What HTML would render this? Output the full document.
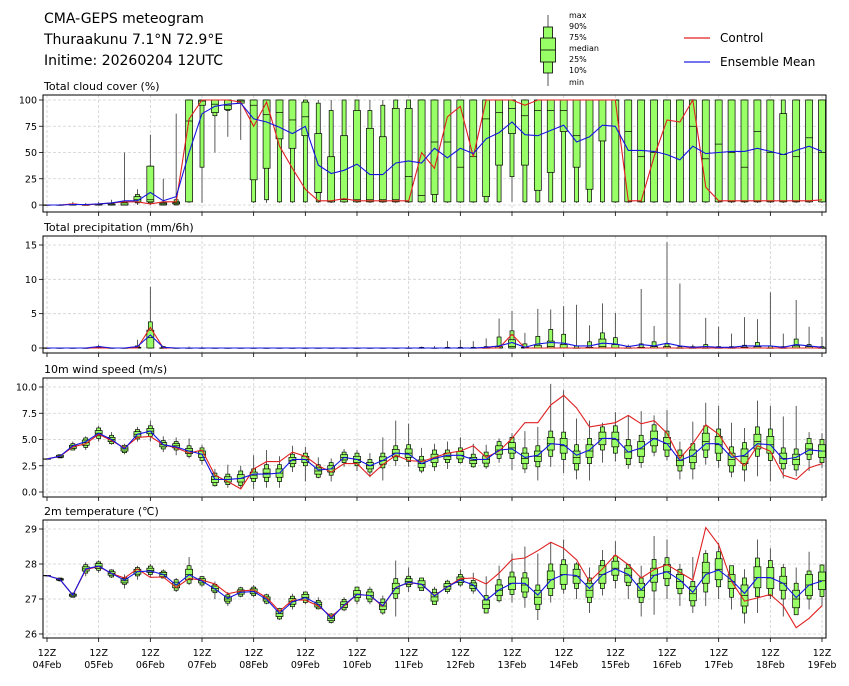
<!DOCTYPE html>
<html><head><meta charset="utf-8"><style>
body{margin:0;background:#fff;font-family:"Liberation Sans","DejaVu Sans",sans-serif}
svg text{font-family:"DejaVu Sans","Liberation Sans",sans-serif}
</style></head><body>
<svg id="chart" width="849" height="681" viewBox="0 0 849 681" xmlns="http://www.w3.org/2000/svg">
<g>
<text x="44" y="23" font-size="14">CMA-GEPS meteogram</text>
<text x="44" y="44" font-size="14">Thuraakunu 7.1°N 72.9°E</text>
<text x="44" y="65" font-size="14">Initime: 20260204 12UTC</text>
</g>
<g>
<line x1="548" y1="15" x2="548" y2="86" stroke="#555" stroke-width="1"/>
<rect x="543.5" y="27" width="9" height="46" fill="#99ff66" stroke="#000" stroke-width="0.8"/>
<rect x="540.5" y="38" width="15" height="24" fill="#99ff66" stroke="#000" stroke-width="0.8"/>
<line x1="540.5" y1="50" x2="555.5" y2="50" stroke="#000" stroke-width="0.8"/>
<g font-size="8">
<text x="569" y="18">max</text><text x="569" y="29">90%</text><text x="569" y="40">75%</text>
<text x="569" y="51">median</text><text x="569" y="62">25%</text><text x="569" y="73">10%</text><text x="569" y="85">min</text>
</g>
</g>
<g>
<line x1="684" y1="38" x2="710" y2="38" stroke="#e02020" stroke-width="1.3"/>
<text x="720" y="42" font-size="12">Control</text>
<line x1="684" y1="62" x2="710" y2="62" stroke="#2020e0" stroke-width="1.3"/>
<text x="720" y="66" font-size="12">Ensemble Mean</text>
</g>
</svg>
<script>
// ---------- data ----------
const days = ["04Feb","05Feb","06Feb","07Feb","08Feb","09Feb","10Feb","11Feb","12Feb","13Feb","14Feb","15Feb","16Feb","17Feb","18Feb","19Feb"];
// cloud cover (%)
const cloudMean = [0,0,0.5,0.5,1,2,4,4,12,4,8,50,87,94,96,97,82,79,74,68,75,38,30,33,39,29,29,40,42,40,54,45,54,49,63,69,79,67,66,71,76,60,65,76,75,52,52,51,48,43,56,49,50,51,51,54,51,48,52,56,51];
const cloudCtrl = [0,0,1,0,1,2,3,3,1,3,3,82,100,100,100,98,75,98,56,35,15,4,4,6,4,4,4,4,4,50,35,84,94,46,100,100,100,95,100,100,100,100,100,100,100,4,4,46,81,79,100,17,4,4,4,4,4,4,4,4,5];
const cloudMed = [0,0,0,0,0,0,0,5,5,1,2,80,99,96,95,99,95,86,88,81,84,12,3,5,5,5,5,5,27,9,60,60,36,46,82,88,92,85,90,90,90,66,100,100,100,70,46,50,3,3,75,44,58,50,36,70,50,48,46,64,50];
const cloudQ1 = [0,0,0,0,0,0,0,3,3,0,1,3,95,88,91,97,24,35,63,54,66,12,3,3,3,3,3,3,3,3,10,3,3,3,8,38,68,38,14,31,70,36,15,61,3,3,3,3,3,3,3,3,3,3,3,3,3,3,3,3,3];
const cloudQ3 = [0,0,1,0,1,1,2,8,37,2,3,100,100,100,100,100,100,100,100,100,98,68,46,66,90,73,65,92,92,100,100,100,100,100,100,100,100,100,100,100,100,100,100,100,100,100,100,100,100,100,100,100,100,100,100,100,100,87,100,100,100];
const cloudP10 = [0,0,0,0,0,0,0,2,2,0,0,3,36,85,90,97,3,5,3,3,3,3,3,3,3,3,3,3,3,3,3,3,3,3,3,3,27,3,3,3,3,3,3,3,3,3,3,3,3,3,3,3,3,3,3,3,3,3,3,3,3];
const cloudP90 = [0,0,1,0,1,2,3,10,37,3,5,100,100,100,100,100,100,100,100,100,100,97,90,100,100,90,95,100,100,100,100,100,100,100,100,100,100,100,100,100,100,100,100,100,100,100,100,100,100,100,100,100,100,100,100,100,100,100,100,100,100];
const cloudMin = [0,0,0,0,0,0,0,0,0,0,0,2,2,50,65,62,2,2,2,2,2,2,2,2,2,2,2,2,2,2,2,2,2,2,2,2,3,2,2,2,2,2,2,2,2,2,2,2,2,2,2,2,2,2,2,2,2,2,2,2,2];
const cloudMax = [0,1,3,2,3,5,50,15,67,25,87,100,100,100,100,100,100,100,100,100,100,100,100,100,100,100,100,100,100,100,100,100,100,100,100,100,100,100,100,100,100,100,100,100,100,100,100,100,100,100,100,100,100,100,100,100,100,100,100,100,100];
// precipitation (mm/6h)
const prMean = [0,0,0,0,0.2,0,0,0.2,1.9,0.1,0,0,0,0,0,0,0,0,0,0,0,0,0,0,0,0,0,0,0,0,0,0,0,0,0.1,0.3,0.8,0.1,0.6,0.8,0.7,0.3,0.3,0.7,0.6,0.2,0.5,0.3,0.7,0.3,0.1,0.2,0.1,0.1,0.3,0.3,0.3,0.1,0.5,0.3,0.1];
const prCtrl = [0,0,0,0,0,0,0,0,3.0,0,0,0,0,0,0,0,0,0,0,0,0,0,0,0,0,0,0,0,0,0,0,0,0,0,0,0,2.0,0,0,0,0,0,0,0,0,0,0,0,0,0,0,0,0,0,0,0,0,0,0,0,0];
const prMed = [0,0,0,0,0,0,0,0,1.5,0,0,0,0,0,0,0,0,0,0,0,0,0,0,0,0,0,0,0,0,0,0,0,0,0,0,0,0.2,0,0,0.2,0,0,0,0.2,0,0,0,0,0,0,0,0,0,0,0,0,0,0,0,0,0];
const prQ3 = [0,0,0,0,0.1,0,0,0.1,2.6,0,0,0,0,0,0,0,0,0,0,0,0,0,0,0,0,0,0,0,0,0,0,0,0,0,0,0.2,1.2,0.1,0.4,1.0,0.5,0,0.1,1.3,0.5,0,0.1,0.2,0.2,0,0,0,0,0,0.1,0.2,0,0,0.3,0.2,0];
const prP90 = [0,0,0,0,0.2,0,0,0.3,3.8,0.2,0,0,0,0,0,0,0,0,0,0,0,0,0,0,0,0,0,0,0,0.1,0,0.1,0.1,0.1,0.2,1.6,2.5,0.6,1.7,2.7,2.0,0.3,0.9,2.2,1.5,0.2,0.6,0.9,0.6,0.2,0.2,0.5,0.2,0.2,0.4,0.8,0.3,0.2,1.3,0.5,0.2];
const prMax = [0,0,0,0,0.5,0,0,1.2,8.9,0.3,0,0.2,0.2,0,0,0,0,0,0,0,0,0,0,0,0,0,0,0,0.3,0.2,0.3,1.0,1.2,1.0,1.4,4.3,5.4,2.2,5.7,5.6,6.1,6.3,3.3,6.5,5.1,0.5,8.6,3.2,15.4,9.4,0.5,4.4,3.1,2.1,4.5,4.2,8.1,2.1,7.0,3.1,1.6];
// 10m wind speed (m/s)
const wMean = [3.15,3.4,4.4,4.8,5.6,5.0,4.1,5.5,5.8,4.5,4.3,3.9,3.6,1.2,1.2,1.3,1.7,1.7,1.8,3.1,3.1,2.1,2.2,3.3,3.1,2.5,3.0,3.7,3.6,2.7,3.2,3.5,3.5,3.1,3.1,4.0,4.1,3.3,3.5,4.6,4.5,3.5,4.0,5.1,5.1,3.8,4.2,5.1,4.6,3.0,3.5,4.6,4.6,3.3,3.5,4.6,4.5,3.1,3.3,4.0,3.9];
const wCtrl = [3.15,3.4,4.3,4.6,5.5,4.9,4.2,5.2,5.3,4.5,4.2,3.7,4.0,1.6,1.0,0.3,2.2,2.9,2.9,3.8,3.4,2.5,1.9,2.7,2.7,1.5,2.6,3.5,3.0,2.9,3.3,3.7,3.9,4.4,3.3,3.9,5.1,6.6,6.6,8.3,9.2,8.0,6.2,6.4,6.6,7.3,6.5,6.8,5.6,3.2,4.6,6.4,5.5,3.6,2.5,4.4,3.9,1.6,1.2,2.3,2.7];
const wMed = [3.15,3.4,4.3,4.7,5.6,5.0,4.1,5.5,5.8,4.5,4.4,3.9,3.6,1.2,1.2,1.3,1.6,1.8,1.8,3.0,3.1,2.0,2.2,3.3,3.1,2.5,3.0,3.7,3.7,2.7,3.2,3.4,3.5,3.0,3.1,4.0,4.2,3.2,3.4,4.6,4.4,3.3,3.9,5.1,5.0,3.8,4.1,5.1,4.6,3.0,3.4,4.8,4.5,3.1,3.4,4.8,4.5,3.2,3.1,4.1,3.9];
const wSq = [0,0.1,0.15,0.25,0.25,0.2,0.2,0.25,0.25,0.2,0.2,0.25,0.3,0.3,0.25,0.35,0.3,0.4,0.4,0.3,0.3,0.3,0.3,0.25,0.3,0.3,0.35,0.35,0.4,0.35,0.4,0.3,0.35,0.3,0.35,0.4,0.5,0.5,0.5,0.6,0.7,0.6,0.6,0.6,0.7,0.6,0.7,0.7,0.6,0.5,0.6,0.8,0.8,0.6,0.7,0.7,0.8,0.5,0.5,0.5,0.6];
const wSw = [0,0.15,0.3,0.45,0.5,0.4,0.35,0.45,0.5,0.4,0.4,0.5,0.6,0.6,0.5,0.7,0.6,0.8,0.8,0.6,0.6,0.6,0.6,0.5,0.6,0.6,0.7,0.7,0.8,0.7,0.8,0.6,0.7,0.6,0.7,0.8,1.0,1.0,1.0,1.2,1.3,1.2,1.2,1.1,1.3,1.2,1.3,1.3,1.2,1.0,1.2,1.5,1.5,1.2,1.3,1.4,1.5,1.0,1.0,1.0,1.1];
const wMin = [3.15,3.3,4.0,4.0,4.8,4.5,3.6,4.8,4.8,3.8,3.5,3.2,2.6,0.5,0.4,0.3,0.3,0.4,0.4,1.9,1.0,1.3,1.0,2.4,2.0,1.4,1.1,2.5,2.4,1.8,2.0,2.2,2.7,2.3,2.2,2.8,2.1,1.8,1.1,2.4,1.8,1.2,1.1,2.8,2.9,2.2,2.3,3.4,3.0,1.2,1.2,2.6,2.3,1.4,1.0,1.5,1.0,1.3,1.5,2.0,2.3];
const wMax = [3.15,3.5,4.8,5.3,6.3,5.7,4.6,6.2,6.8,5.3,5.2,5.1,4.5,2.2,2.6,2.5,3.5,4.0,3.4,4.4,4.3,3.3,3.2,4.1,4.0,3.7,5.2,6.8,6.5,4.2,4.6,4.8,5.2,4.6,4.5,5.1,5.6,5.8,6.2,10.3,9.7,7.0,6.8,6.6,7.6,7.3,7.7,7.3,7.8,4.8,6.7,8.5,8.2,6.6,6.1,8.7,8.2,7.2,8.2,5.7,5.6];
// 2m temperature (°C)
const tMean = [27.67,27.56,27.11,27.86,27.94,27.73,27.54,27.78,27.8,27.7,27.4,27.69,27.51,27.29,27.02,27.19,27.21,26.99,26.59,26.92,27.04,26.85,26.45,26.83,27.13,27.1,26.81,27.32,27.48,27.42,27.09,27.35,27.54,27.4,26.97,27.26,27.45,27.45,27.11,27.54,27.7,27.67,27.3,27.69,27.86,27.7,27.26,27.67,27.78,27.54,27.19,27.7,27.83,27.54,27.16,27.61,27.61,27.45,27.04,27.4,27.51];
const tCtrl = [27.67,27.56,27.11,27.84,27.93,27.73,27.6,27.86,27.62,27.63,27.33,27.59,27.54,27.43,27.15,27.23,27.26,27.04,26.65,26.97,26.97,26.8,26.5,26.8,27.13,27.1,26.79,27.33,27.47,27.42,27.1,27.35,27.58,27.6,27.43,27.74,28.13,28.17,28.38,28.62,28.45,28.12,27.5,27.86,28.26,27.98,27.6,27.84,27.98,27.76,27.54,29.04,28.55,27.5,26.94,27.03,27.13,26.8,26.18,26.45,26.81];
const tMed = [27.67,27.56,27.11,27.86,27.94,27.73,27.52,27.78,27.82,27.7,27.4,27.7,27.52,27.3,27.0,27.2,27.22,27.0,26.58,26.93,27.05,26.84,26.45,26.84,27.14,27.1,26.8,27.3,27.5,27.42,27.06,27.36,27.55,27.38,26.85,27.25,27.45,27.4,27.05,27.55,27.7,27.65,27.25,27.7,27.88,27.68,27.25,27.68,27.78,27.5,27.15,27.75,27.85,27.5,27.1,27.62,27.6,27.45,27.0,27.4,27.52];
const tSq = [0,0.02,0.03,0.06,0.07,0.05,0.06,0.07,0.06,0.06,0.08,0.15,0.06,0.07,0.06,0.06,0.07,0.06,0.08,0.08,0.08,0.07,0.07,0.08,0.1,0.1,0.1,0.15,0.08,0.1,0.12,0.08,0.08,0.08,0.12,0.15,0.18,0.2,0.2,0.25,0.28,0.2,0.2,0.25,0.2,0.2,0.2,0.2,0.2,0.2,0.2,0.3,0.3,0.2,0.3,0.3,0.3,0.2,0.25,0.3,0.25];
const tSw = [0,0.04,0.06,0.12,0.12,0.1,0.1,0.12,0.12,0.1,0.15,0.25,0.12,0.12,0.12,0.12,0.12,0.12,0.15,0.15,0.15,0.12,0.12,0.15,0.2,0.18,0.2,0.28,0.15,0.18,0.22,0.15,0.15,0.15,0.25,0.3,0.32,0.35,0.35,0.45,0.42,0.35,0.35,0.4,0.35,0.3,0.35,0.45,0.4,0.35,0.35,0.55,0.5,0.45,0.5,0.55,0.5,0.45,0.45,0.4,0.45];
const tMin = [27.67,27.5,27.05,27.65,27.75,27.6,27.3,27.55,27.6,27.6,27.2,27.4,27.35,27.0,26.8,27.05,27.05,26.85,26.4,26.7,26.85,26.7,26.3,26.65,26.85,26.85,26.55,26.5,27.2,27.25,26.85,27.15,27.35,27.15,26.6,26.9,26.9,26.75,26.4,26.9,27.15,27.0,26.6,27.1,27.3,27.0,26.5,26.55,27.0,26.8,26.6,26.8,27.0,26.7,26.3,26.6,27.0,26.5,26.6,26.7,26.8];
const tMax = [27.67,27.6,27.15,28.05,28.1,27.85,27.7,27.95,28.0,27.85,27.6,28.2,27.65,27.5,27.2,27.35,27.4,27.15,26.75,27.15,27.2,27.05,26.6,27.05,27.35,27.35,27.1,28.1,27.9,27.6,27.35,27.55,27.85,27.75,27.65,27.95,28.3,28.5,28.3,28.6,28.7,28.05,27.9,28.4,28.65,28.0,27.95,28.8,28.7,28.0,28.2,28.4,28.6,27.7,27.85,28.7,28.45,28.0,27.9,28.35,28.0];

// ---------- rendering ----------
const NS = "http://www.w3.org/2000/svg";
const svg = document.getElementById("chart");
const X0 = 47, DX = 775/60, L = 43, R = 826;
function xs(i){ return X0 + i*DX; }
function el(tag, attrs, parent){
  const e = document.createElementNS(NS, tag);
  for (const k in attrs) e.setAttribute(k, attrs[k]);
  (parent||svg).appendChild(e);
  return e;
}
const GREEN = "#99ff66";
function panel(cfg){
  const g = el("g", {});
  
  
  const y = v => cfg.y0 + (v - cfg.vmin) * (cfg.y1 - cfg.y0) / (cfg.vmax - cfg.vmin);
  for (let d = 0; d < 16; d++){
    const gx = xs(d*4);
    el("line", {x1:gx, x2:gx, y1:cfg.top, y2:cfg.bot, stroke:"#d0d0d0", "stroke-width":0.8, "stroke-dasharray":"3,2"}, g);
    el("line", {x1:gx, x2:gx, y1:cfg.bot, y2:cfg.bot+4, stroke:"#000", "stroke-width":0.8}, g);
  }
  cfg.ticks.forEach((t, k) => {
    const ty = y(t);
    el("line", {x1:L, x2:R, y1:ty, y2:ty, stroke:"#d0d0d0", "stroke-width":0.8, "stroke-dasharray":"3,2"}, g);
    el("line", {x1:L-4, x2:L, y1:ty, y2:ty, stroke:"#000", "stroke-width":0.8}, g);
    const tl = el("text", {x:L-6, y:ty+3.5, "font-size":9.5, "text-anchor":"end"}, g);
    tl.textContent = cfg.tickLabels[k];
    
    
  });
  const ttl = el("text", {x:44, y:cfg.top-5, "font-size":11}, g);
  ttl.textContent = cfg.title;
  
  
  for (let i = 0; i < 61; i++){
    const cx = xs(i), d = cfg.data(i);
    const bg = el("g", {}, g);
    
    
    el("line", {x1:cx, x2:cx, y1:y(d.mn), y2:y(d.mx), stroke:"#333", "stroke-width":0.8}, bg);
    el("rect", {x:cx-2, y:y(d.p90), width:4, height:Math.max(0.3, y(d.p10)-y(d.p90)), fill:GREEN, stroke:"#000", "stroke-width":0.7}, bg);
    el("rect", {x:cx-3.5, y:y(d.q3), width:7, height:Math.max(0.3, y(d.q1)-y(d.q3)), fill:GREEN, stroke:"#000", "stroke-width":0.7}, bg);
    el("line", {x1:cx-3.5, x2:cx+3.5, y1:y(d.med), y2:y(d.med), stroke:"#000", "stroke-width":0.7}, bg);
  }
  const lp = arr => arr.map((v, i) => (i ? "L" : "M") + xs(i).toFixed(1) + "," + y(v).toFixed(1)).join("");
  const c = el("path", {d:lp(cfg.ctrl), fill:"none", stroke:"#e02020", "stroke-width":1.1}, g);
  
  
  const m = el("path", {d:lp(cfg.mean), fill:"none", stroke:"#1515e0", "stroke-width":1.1}, g);
  
  
  el("rect", {x:L, y:cfg.top, width:R-L, height:cfg.bot-cfg.top, fill:"none", stroke:"#000", "stroke-width":1}, g);
}
panel({name:"cloud-cover-panel", title:"Total cloud cover (%)", top:95, bot:212, vmin:0, vmax:100, y0:205, y1:100,
  ticks:[0,25,50,75,100], tickLabels:["0","25","50","75","100"], mean:cloudMean, ctrl:cloudCtrl,
  data:i => ({mn:cloudMin[i], p10:cloudP10[i], q1:cloudQ1[i], med:cloudMed[i], q3:cloudQ3[i], p90:cloudP90[i], mx:cloudMax[i]})});
panel({name:"precipitation-panel", title:"Total precipitation (mm/6h)", top:236, bot:353, vmin:0, vmax:15, y0:348, y1:245,
  ticks:[0,5,10,15], tickLabels:["0","5","10","15"], mean:prMean, ctrl:prCtrl,
  data:i => ({mn:0, p10:0, q1:0, med:prMed[i], q3:prQ3[i], p90:prP90[i], mx:prMax[i]})});
panel({name:"wind-speed-panel", title:"10m wind speed (m/s)", top:378, bot:497, vmin:0, vmax:10, y0:492, y1:387,
  ticks:[0,2.5,5,7.5,10], tickLabels:["0.0","2.5","5.0","7.5","10.0"], mean:wMean, ctrl:wCtrl,
  data:i => ({mn:wMin[i], p10:wMed[i]-wSw[i], q1:wMed[i]-wSq[i], med:wMed[i], q3:wMed[i]+wSq[i], p90:wMed[i]+wSw[i], mx:wMax[i]})});
panel({name:"temperature-panel", title:"2m temperature (℃)", top:520, bot:638, vmin:26, vmax:29, y0:634, y1:529,
  ticks:[26,27,28,29], tickLabels:["26","27","28","29"], mean:tMean, ctrl:tCtrl,
  data:i => ({mn:tMin[i], p10:tMed[i]-tSw[i], q1:tMed[i]-tSq[i], med:tMed[i], q3:tMed[i]+tSq[i], p90:tMed[i]+tSw[i], mx:tMax[i]})});
days.forEach((dname, d) => {
  const gx = xs(d*4);
  const t1 = el("text", {x:gx, y:656, "font-size":9.5, "text-anchor":"middle"});
  t1.textContent = "12Z";
  
  
  const t2 = el("text", {x:gx, y:668, "font-size":9.5, "text-anchor":"middle"});
  t2.textContent = dname;
  
  
});
</script>
</body></html>
